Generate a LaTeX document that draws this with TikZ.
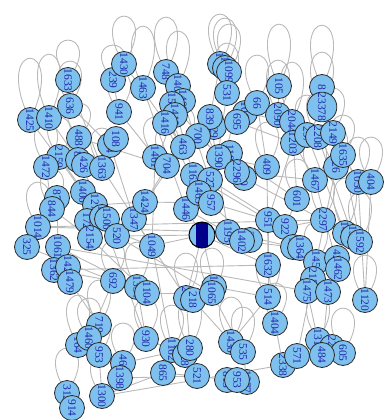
\documentclass[tikz,border=0pt]{standalone}
\usepackage{fontspec}
\setmainfont{Liberation Serif}
\usetikzlibrary{backgrounds}
\definecolor{SkyFill}{HTML}{7EC0EE}
\definecolor{LabelBlue}{RGB}{30,40,170}
\definecolor{EdgeGray}{RGB}{185,185,185}
\definecolor{Rim}{HTML}{2B2B2B}
\definecolor{HubNavy}{HTML}{00008B}

\begin{document}
\begin{tikzpicture}[x=1pt,y=-1pt,
  vertex/.style={circle,draw=Rim,fill=SkyFill,line width=0.8pt,minimum size=25pt,inner sep=0pt,text=LabelBlue,font=\fontsize{11.5}{11.5}\selectfont,rotate=-90},
  hub/.style={circle,draw=black,fill=SkyFill,line width=1pt,minimum size=26pt,inner sep=0pt,path picture={\fill[HubNavy] ([xshift=-6pt]path picture bounding box.north) rectangle ([xshift=6pt]path picture bounding box.south);}},
  link/.style={draw=EdgeGray,line width=0.9pt},
  looped/.style={draw=EdgeGray,line width=0.9pt}
]
\useasboundingbox (0,0) rectangle (387,420);

% vertices: name/label/x/y
\foreach \nm/\lab/\x/\y in {
  n1425/1425/30/120, n1410/1410/49/118, n1633/1633/68/80, n636/636/70/106, n488/488/79/138,
  n239/239/113/80, n1430/1430/124/64, n1463/1463/143/88, n941/941/119/112,
  n748/748/166/72, n1408/1408/178/86, n1409/1409/183/101, n1502/1502/172/104,
  n1418/1418/175/115, n1416/1416/165/123,
  n1080/1080/220/64, n1599/1599/225/68, n1099/1099/229/72, n531/531/227/93,
  n1429/1429/214/127, n839/839/210/117, n700/700/198/136, n463/463/183/147,
  n1461/1461/155/157, n704/704/167/166, n1163/1163/193/175, n527/527/210/180,
  n118/118/230/153, n1390/1390/219/157, n920/920/244/178, n2296/2296/237/172,
  n1063/1063/245/113, n695/695/237/122, n66/66/257/103,
  n105/105/279/86, n2090/2090/278/115, n2044/2044/292/122,
  n8/8/322/87, n23378/23378/322/107, n1203/1203/293/143, n297/297/307/135,
  n2208/2208/318/137, n2149/2149/333/133, n26/26/336/167, n1635/1635/343/155,
  n409/409/267/167, n1467/1467/315/180, n1050/1050/358/182, n404/404/371/182,
  n601/601/297/199,
  n534/534/110/145, n108/108/116/139, n2159/2159/59/157, n1472/1472/46/167,
  n880/880/78/160, n426/426/84/165, n1363/1363/102/168, n1400/1400/83/192,
  n872/872/57/198, n844/844/52/209, n1274/1274/95/205, n1014/1014/38/227,
  n325/325/27/247, n1061/1061/58/247, n172/172/87/221, n1399/1399/102/217,
  n1500/1500/107/219, n2154/2154/90/238, n520/520/117/236, n1347/1347/134/219,
  n1424/1424/145/202, n1049/1049/152/246, n1446/1446/186/209, n1465/1465/199/193,
  n957/957/211/203,
  n1195/1195/228/232, n388/388/250/240, n1402/1402/242/241, n951/951/268/220,
  n922/922/285/227, n360/360/293/247, n1364/1364/300/248, n2297/2297/323/220,
  n1484/1484/345/233, n1582/1582/353/237, n1592/1592/360/242,
  n1632/1632/268/265, n1459/1459/316/262, n428/428/337/258, n1462/1462/338/269,
  n2150/2150/313/279, n1475/1475/307/291, n1473/1473/328/292, n1120/1120/365/300,
  n514/514/268/297, n1404/1404/275/323,
  n1362/1362/54/270, n1422/1422/68/267, n1479/1479/70/282, n692/692/113/281,
  n1334/1334/137/287, n1104/1104/147/293, n2158/2158/186/298, n218/218/193/300,
  n1365/1365/214/287, n1065/1065/212/293,
  n719/719/99/325, n164/164/78/345, n1460/1460/89/338, n953/953/99/355,
  n466/466/123/363, n1398/1398/120/378, n930/930/146/339, n1162/1162/172/350,
  n1428/1428/185/355, n280/280/190/348, n865/865/163/373, n521/521/197/376,
  n312/312/67/393, n914/914/72/408, n1300/1300/102/396,
  n1430b/1430/231/342, n535/535/243/352, n2338/2338/283/365, n571/571/297/356,
  n1310/1310/318/340, n2235/2235/332/347, n605/605/343/353, n484/484/322/355,
  n1277/1277/247/382, n813/813/227/380, n953b/953/237/380}
  \node[vertex] (\nm) at (\x,\y) {\lab};
\node[hub] (hub) at (202,235) {};

\begin{scope}[on background layer]
% self loops: name/height
\foreach \v/\h in {
  n1425/62, n1410/64, n1633/40, n636/45, n1430/48, n239/35, n1463/62, n748/55,
  n1408/55, n1080/50, n1599/50, n1099/48, n531/50, n66/48, n105/62, n2090/55,
  n2044/60, n8/62, n23378/55, n297/40, n2208/45, n2149/45, n1635/40, n26/40,
  n1050/45, n404/45, n941/40, n488/35, n2159/40, n1472/45, n1014/45, n844/40,
  n1363/40, n704/40, n1461/40, n463/40, n1390/40, n409/45, n601/40, n1467/40,
  n2297/45, n1484/55, n1592/50, n1459/40, n1473/40, n1120/45, n514/40, n1404/40,
  n1430b/45, n535/45, n1310/45, n605/45, n719/45, n1460/40, n164/50, n953/40,
  n466/40, n930/40, n1162/45, n280/50, n2158/45, n1065/45, n1334/45, n692/40,
  n312/45, n1300/40}
  \draw[looped] (\v.center) .. controls +(-40,-\h*1.33) and +(40,-\h*1.33) .. (\v.center);
% edges
\foreach \a/\b in {
  n1425/n1400, n1410/n880, n1633/n1363, n636/n534, n488/n704, n941/n1461,
  n1430/n463, n239/n941, n1463/n1446, n748/n1163, n1408/n527, n1502/n1390,
  n1416/n1465, n1080/n839, n531/n957, n839/n1195, n700/n2296, n463/n1347,
  n1461/n1049, n704/n1424, n1163/n951, n527/n922, n1390/n409, n118/n601,
  n2296/n1467, n920/n2297, n695/n1203, n1063/n2044, n66/n409, n105/n2090,
  n2090/n1467, n2044/n601, n8/n2149, n23378/n1635, n1203/n951, n297/n1484,
  n2208/n1582, n2149/n1050, n1635/n1592, n26/n1459, n409/n1632, n1467/n1462,
  n1050/n1120, n404/n1120, n601/n922, n2159/n1399, n1472/n844, n880/n520,
  n534/n1347, n1363/n1049, n1400/n2154, n872/n1061, n844/n2154, n1014/n1195,
  n325/n692, n1061/n1334, n1274/n1424, n172/n1049, n1399/n930, n2154/n1104,
  n520/n1065, n1347/n2158, n1424/n957, n1049/n1162, n1446/n1402, n1465/n388,
  n957/n951, hub/n1049, hub/n1632, hub/n1446, hub/n1365, hub/n922, hub/n2158,
  hub/n520, n1195/n360, n1402/n1364, n951/n514, n922/n2297, n360/n1473,
  n2297/n1484, n1632/n1404, n1459/n1473, n428/n2150, n2150/n571, n1475/n1310,
  n1473/n484, n514/n1430b, n1404/n2338, n1362/n692, n1479/n719, n692/n1460,
  n1334/n930, n1104/n1065, n719/n1460, n1460/n953, n164/n953, n466/n1398,
  n930/n1162, n1162/n280, n865/n521, n521/n813, n2158/n280, n218/n1430b,
  n1065/n535, n1365/n514, n312/n914, n1300/n865, n1300/n2338, n1430b/n535,
  n535/n1277, n2338/n571, n571/n1310, n1310/n605, n484/n2235, n1061/n1475,
  n325/n1014, n1014/n2297, n1362/n1632, n953/n1300, n466/n280, n1398/n521}
  \draw[link] (\a) -- (\b);
\end{scope}
\end{tikzpicture}
\end{document}
